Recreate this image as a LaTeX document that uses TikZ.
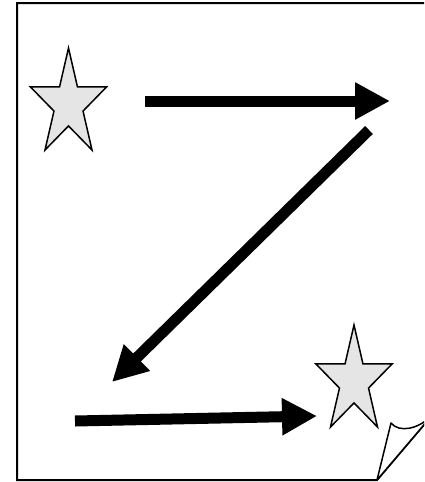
\documentclass[tikz,border=0pt]{standalone}
\usetikzlibrary{arrows.meta,shapes.geometric}
\tikzset{
  etoile/.style={star,star points=5,star point ratio=2.618,minimum size=80pt,
    inner sep=0pt,draw,line width=1.5pt,fill=black!10,yscale=1.41},
  fleche/.style={line width=11pt,-{Triangle[length=35pt,width=35pt]}}
}
\begin{document}
\begin{tikzpicture}[x=1pt,y=-1pt,line width=2pt]
\useasboundingbox (0,0) rectangle (424,482);
\clip (0,0) rectangle (424,482);
% Feuille : le coin inferieur droit est replie.
\draw[fill=white] (17,3) -- (445,3) -- (445,400) -- (377,480) -- (17,480) -- cycle;
\draw[line width=1.5pt,fill=white,line join=round] (377,480) -- (391,423)
      .. controls (399,433) and (418,429) .. (430,417) -- (445,400) -- cycle;
% Etoiles de depart et d'arrivee.
\node[etoile] (debut) at (68.5,104.4) {};
\node[etoile] (fin) at (354,381.4) {};
% Parcours en Z.
\coordinate (h1) at (145,101);
\coordinate (h2) at (390,101);
\coordinate (d1) at (369,130);
\coordinate (d2) at (112,382);
\coordinate (b1) at (75,421);
\coordinate (b2) at (317,416);
\draw[fleche] (h1) -- (h2);
\draw[fleche] (d1) -- (d2);
\draw[fleche] (b1) -- (b2);
\end{tikzpicture}
\end{document}
